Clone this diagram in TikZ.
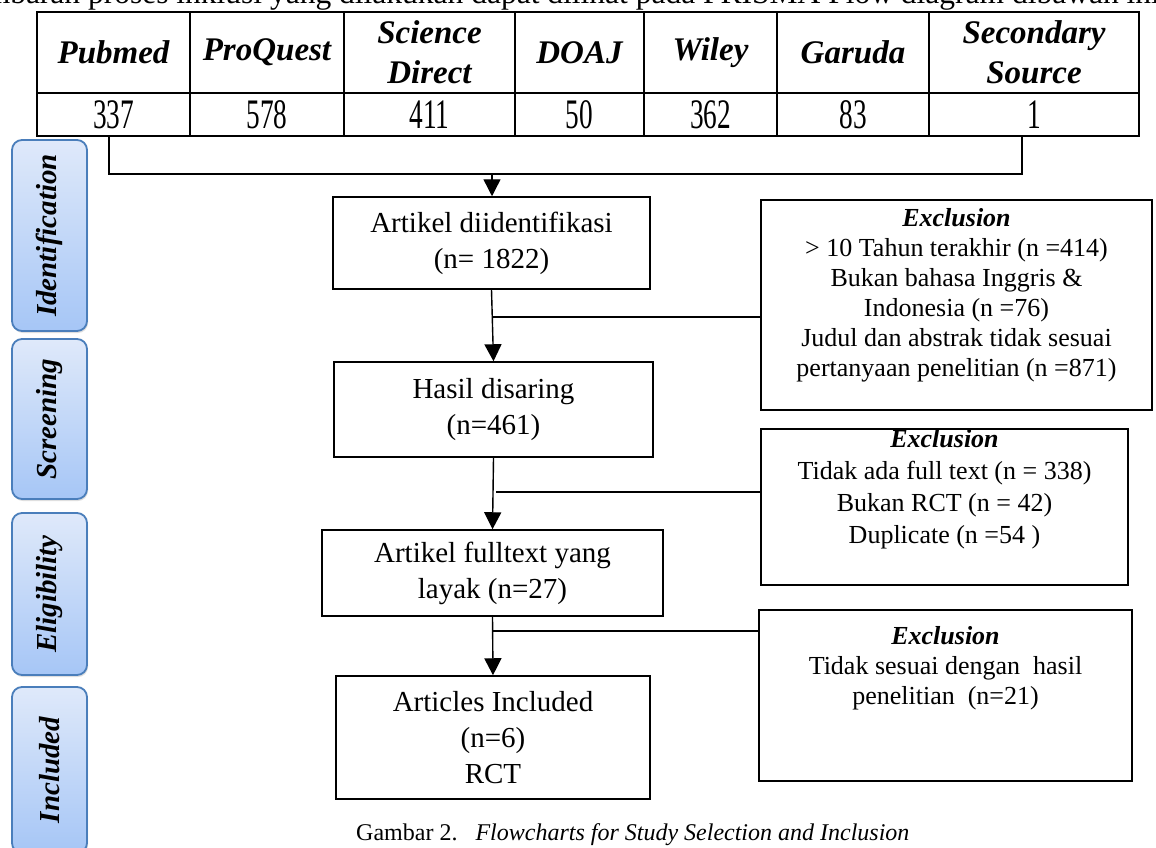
\documentclass[tikz,border=0pt]{standalone}
\usepackage{fontspec}
\setmainfont{Liberation Serif}
\usepackage{graphicx}
\usepackage{tikz}
\usetikzlibrary{arrows.meta}
\usetikzlibrary{shadows}

\definecolor{phasetop}{HTML}{DFE9FA}
\definecolor{phasebottom}{HTML}{A6C6F6}
\definecolor{phaseborder}{HTML}{4A7EBB}

\newcommand{\narrowdigits}[1]{\scalebox{0.65}[1]{#1}}

\tikzset{
  cell/.style={draw, line width=1.6pt, inner sep=0pt, align=center},
  srchead/.style={cell, minimum height=81pt, font=\fontsize{33}{40}\selectfont\bfseries\itshape},
  srcnum/.style={cell, minimum height=43pt, font=\fontsize{42}{42}\selectfont},
  stepbox/.style={draw, line width=1.5pt, align=center, inner sep=0pt, font=\fontsize{29}{36}\selectfont},
  exclbox/.style={draw, line width=1.5pt, align=center, inner sep=0pt, font=\fontsize{26}{30}\selectfont},
  phase/.style={draw=phaseborder, line width=1.8pt, rounded corners=10pt, top color=phasetop, bottom color=phasebottom,
    minimum width=75pt, inner sep=0pt, drop shadow={opacity=0.25, shadow xshift=1pt, shadow yshift=-2pt},
    font=\fontsize{29}{29}\selectfont\bfseries\itshape},
  flow/.style={line width=1.4pt, -{Triangle[length=17pt,width=17pt]}},
  link/.style={line width=1.4pt}
}

\begin{document}
\begin{tikzpicture}[x=1pt,y=-1pt]
    \path[use as bounding box, clip] (0,0) rectangle (1156,848);
    \fill[white] (0,0) rectangle (1156,848);

    % line of text above the figure, cut off at the top
    \node[anchor=base east, inner sep=0pt, font=\fontsize{31.5}{31.5}\selectfont] (intro) at (1160,4)
        {gambaran proses inklusi yang dilakukan dapat dilihat pada PRISMA Flow diagram dibawah ini};

    % sources table
    \foreach \l/\r/\src/\num [count=\i] in {37/190/Pubmed/337, 190/344/ProQuest/578,
        344/515/{Science\\Direct}/411, 515/644/DOAJ/50, 644/777/Wiley/362,
        777/929/Garuda/83, 929/1139/{Secondary\\Source}/1}
    {
        \node[srchead, minimum width={\r-\l}] (h\i) at ({(\l+\r)/2},52.5) {\src};
        \node[srcnum, minimum width={\r-\l}] (c\i) at ({(\l+\r)/2},114.5) {\narrowdigits{\num}};
    }

    % phase labels
    \node[phase, minimum height=191pt] (p1) at (49.5,235.5) {\rotatebox{90}{Identification}};
    \node[phase, minimum height=160pt] (p2) at (49.5,419) {\rotatebox{90}{Screening}};
    \node[phase, minimum height=162pt] (p3) at (49.5,594) {\rotatebox{90}{Eligibility}};
    \node[phase, minimum height=166pt] (p4) at (49.5,770) {\rotatebox{90}{Included}};

    % main steps
    \node[stepbox, minimum width=317pt, minimum height=92pt] (ident) at (491.5,243) {Artikel diidentifikasi\\(n= 1822)};
    \node[stepbox, minimum width=319pt, minimum height=95pt] (screen) at (493.5,409.5) {Hasil disaring\\(n=461)};
    \node[stepbox, minimum width=341pt, minimum height=86pt] (elig) at (492.5,573) {Artikel fulltext yang\\layak (n=27)};
    \node[stepbox, minimum width=314pt, minimum height=123pt] (incl) at (493,737.5) {Articles Included\\(n=6)\\RCT};

    % exclusions
    \node[exclbox, minimum width=391pt, minimum height=210pt] (excl1) at (956.5,305)
        {\textbf{\textit{Exclusion}}\\> 10 Tahun terakhir (n =414)\\Bukan bahasa Inggris \&\\Indonesia (n =76)\\Judul dan abstrak tidak sesuai\\pertanyaan penelitian (n =871)\\[-4pt]};
    \node[exclbox, minimum width=367pt, minimum height=156pt, font=\fontsize{26}{32}\selectfont] (excl2) at (944.5,507)
        {\textbf{\textit{Exclusion}}\\Tidak ada full text (n = 338)\\Bukan RCT (n = 42)\\Duplicate (n =54 )\\[10pt]};
    \node[exclbox, minimum width=373pt, minimum height=171pt] (excl3) at (945.5,695.5)
        {\textbf{\textit{Exclusion}}\\Tidak sesuai dengan\ \ hasil\\penelitian\ \ (n=21)\\[31pt]};

    % connectors
    \coordinate (srcL) at (109,136);
    \coordinate (srcR) at (1022,136);
    \coordinate (join) at (492,174);
    \draw[link] (srcL) |- (join) -| (srcR);
    \draw[flow] (join) -- (join |- ident.north);
    \draw[flow] (ident.south) -- (screen.north);
    \draw[flow] (screen.south) -- (elig.north);
    \draw[flow] (elig.south) -- (incl.north);
    \coordinate (cut1) at (492,317);
    \coordinate (cut2) at (496,492);
    \coordinate (cut3) at (492,631);
    \draw[link] (cut1) -- (cut1 -| excl1.west);
    \draw[link] (cut2) -- (cut2 -| excl2.west);
    \draw[link] (cut3) -- (cut3 -| excl3.west);

    % caption
    \node[anchor=base west, inner sep=0pt, font=\fontsize{24}{24}\selectfont] (caption) at (356,840)
        {Gambar 2.\hspace{18pt}\textit{Flowcharts for Study Selection and Inclusion}};
\end{tikzpicture}
\end{document}
